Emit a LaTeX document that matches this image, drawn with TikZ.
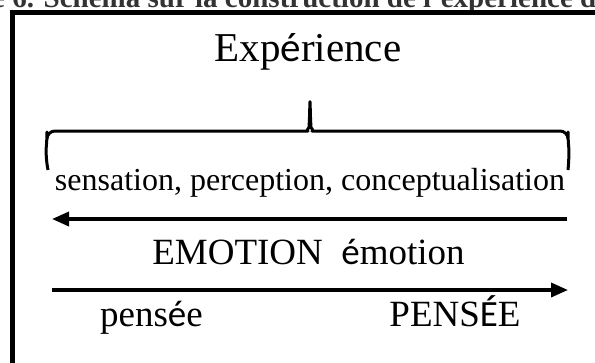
\documentclass[tikz,border=0pt]{standalone}
\usepackage{fontspec}
\setmainfont{Liberation Serif}
\newfontfamily\accfont{Carlito}
\usetikzlibrary{arrows.meta}

\begin{document}
\begin{tikzpicture}[x=1pt, y=-1pt,
  label/.style={inner sep=0pt, anchor=base, font=\fontsize{37}{44}\selectfont},
  flow/.style={line width=3.5pt, -{Triangle[length=17pt, width=14pt]}}]

  \useasboundingbox (0,0) rectangle (595,362);
  \clip (0,0) rectangle (595,362);

  % caption, cut by the page edge
  \node[inner sep=0pt, anchor=base west, text=black!80,
        font=\fontsize{29}{34}\selectfont\bfseries] (caption) at (-8,7)
    {e 6. Schéma sur la construction de l'expérience d};

  % frame -- only the left and top sides are seen
  \draw[line width=5pt] (12.5,380) -- (12.5,12.5) -- (620,12.5);

  % Experience
  \node[label, font=\fontsize{41}{48}\selectfont] (exp) at (308,61)
    {Exp{\accfont é}rience};

  % brace under it
  \coordinate (braceL) at (48,170);
  \coordinate (braceR) at (568,170);
  \coordinate (braceTip) at (310,97);
  \draw[line width=3pt, rounded corners=8pt, line join=round]
    (braceL) .. controls (46,160) and (46,150) .. (47,140) -- (47,131) -- (300,131)
    .. controls (306,131) and (309,127) .. (309.5,120) -- (braceTip)
    -- (310.5,120) .. controls (311,127) and (314,131) .. (320,131)
    -- (568,131) -- (568,140) .. controls (569,150) and (569,160) .. (braceR);

  \node[label, font=\fontsize{32}{38}\selectfont] (sens) at (310,190)
    {sensation, perception, conceptualisation};

  % emotion goes right to left
  \coordinate (emoR) at (567,219);
  \coordinate (emoL) at (52,219);
  \draw[flow] (emoR) -- (emoL);
  \node[label] (emo) at (308.5,264) {EMOTION\ \ {\accfont é}motion};

  % thought goes left to right
  \coordinate (penL) at (52,290);
  \coordinate (penR) at (568,290);
  \draw[flow] (penL) -- (penR);
  \node[label] (pen) at (151.5,326) {pens{\accfont é}e};
  \node[label] (PEN) at (455,326) {PENS{\accfont É}E};

\end{tikzpicture}
\end{document}
